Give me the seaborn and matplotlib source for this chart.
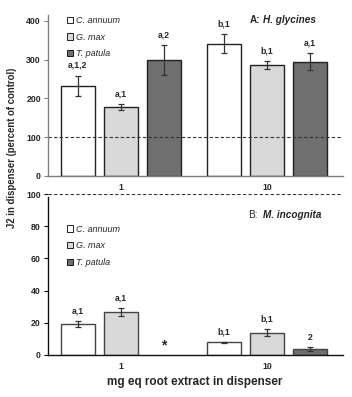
import numpy as np
import pandas as pd
import seaborn as sns
import matplotlib.pyplot as plt
from matplotlib.patches import Patch

# data
doses = ["1", "10"]
species = ["C. annuum", "G. max", "T. patula"]
colors = ["#ffffff", "#d9d9d9", "#6f6f6f"]

# panel A: H. glycines
a_mean = {"C. annuum": [232, 341], "G. max": [177, 286], "T. patula": [299, 295]}
a_err = {"C. annuum": [27, 25], "G. max": [8, 10], "T. patula": [38, 22]}
a_lab = {"C. annuum": ["a,1,2", "b,1"], "G. max": ["a,1", "b,1"], "T. patula": ["a,2", "a,1"]}

# panel B: M. incognita (T. patula at 1 mg not measured -> *)
b_mean = {"C. annuum": [19, 7.9], "G. max": [26.5, 13.9], "T. patula": [np.nan, 3.7]}
b_err = {"C. annuum": [1.8, 0.4], "G. max": [2.5, 2.2], "T. patula": [np.nan, 1.1]}
b_lab = {"C. annuum": ["a,1", "b,1"], "G. max": ["a,1", "b,1"], "T. patula": ["", "2"]}

sns.set_style("white")
plt.rcParams['font.family'] = ['Liberation Sans', 'DejaVu Sans']
plt.rcParams['font.weight'] = 'bold'

fig = plt.figure(figsize=(3.52, 3.97), dpi=100)
ax1 = fig.add_axes([0.136, 0.557, 0.838, 0.405])
ax2 = fig.add_axes([0.136, 0.106, 0.838, 0.405])


def make_df(mean):
    rows = []
    for sp in species:
        for i, d in enumerate(doses):
            rows.append({"dose": d, "species": sp, "val": mean[sp][i]})
    return pd.DataFrame(rows)


def draw(ax, mean, err, labs, spine_col, edge_col):
    df = make_df(mean)
    sns.barplot(data=df, x="dose", y="val", hue="species", order=doses,
                hue_order=species, palette=colors, errorbar=None,
                width=0.885, gap=0.2, edgecolor=edge_col, linewidth=1.0,
                legend=False, ax=ax)
    conts = list(ax.containers)
    for j, cont in enumerate(conts):
        sp = species[j]
        for bar in cont:
            xc = bar.get_x() + bar.get_width() / 2
            c = int(round(xc))
            v = mean[sp][c]
            e = err[sp][c]
            if np.isnan(v):
                continue
            ax.errorbar(xc, v, yerr=e, fmt="none", ecolor="#333333",
                        elinewidth=0.9, capsize=2.5, capthick=0.9)
            ax.annotate(labs[sp][c], (xc, v + e), xytext=(0, 4),
                        textcoords="offset points", ha="center", va="bottom",
                        fontsize=6.2, fontweight="bold")
    ax.set_xlim(-0.5, 1.52)
    ax.set_xlabel("")
    ax.set_ylabel("")
    for s in ["top", "right"]:
        ax.spines[s].set_visible(False)
    for s in ["left", "bottom"]:
        ax.spines[s].set_color(spine_col)
        ax.spines[s].set_linewidth(1.0)
    ax.tick_params(axis="x", length=0, labelsize=6.3, pad=5)
    ax.tick_params(axis="y", length=3, width=0.8, color=spine_col,
                   labelsize=6.3, pad=2, left=True)
    for t in ax.get_xticklabels() + ax.get_yticklabels():
        t.set_fontweight("bold")
    handles = [Patch(facecolor=c, edgecolor="black", linewidth=0.6) for c in colors]
    leg = ax.legend(handles, species, loc="upper left", frameon=False,
                    handlelength=0.7, handleheight=0.7, handletextpad=0.3,
                    labelspacing=0.85, borderpad=0, borderaxespad=0,
                    prop={"size": 6.5, "style": "italic", "weight": "normal"})
    return leg


# panel A
draw(ax1, a_mean, a_err, a_lab, "#808080", "#222222")
ax1.set_ylim(0, 415)
ax1.set_yticks([0, 100, 200, 300, 400])
ax1.axhline(100, color="#333333", linestyle="--", linewidth=0.8, dashes=(3, 2))
ax1.get_legend().set_bbox_to_anchor((0.065, 0.995))
ax1.text(0.685, 402, "A:", transform=ax1.get_yaxis_transform(),
         fontsize=7.2, fontweight="bold", va="center")
ax1.text(0.73, 402, "H. glycines", transform=ax1.get_yaxis_transform(),
         fontsize=7.2, fontweight="bold", style="italic", va="center")

# panel B
draw(ax2, b_mean, b_err, b_lab, "#111111", "#444444")
ax2.set_ylim(0, 100)
ax2.set_yticks([0, 20, 40, 60, 80, 100])
ax2.axhline(100, color="#333333", linestyle="--", linewidth=0.8, dashes=(3, 2))
ax2.spines["left"].set_bounds(0, 98.5)
ax2.get_legend().set_bbox_to_anchor((0.065, 0.81))
ax2.text(0.68, 87, "B:", transform=ax2.get_yaxis_transform(),
         fontsize=7.2, fontweight="normal", va="center")
ax2.text(0.73, 87, "M. incognita", transform=ax2.get_yaxis_transform(),
         fontsize=7.2, fontweight="bold", style="italic", va="center")
# missing T. patula at 1 mg
ax2.text(0 + 0.885 / 3, 1.5, "*", ha="center", va="bottom",
         fontsize=10, fontweight="bold")

fig.text(0.034, 0.627, "J2 in dispenser (percent of control)", rotation=90,
         ha="center", va="center", fontsize=6.9, fontweight="bold")
fig.text(0.554, 0.038, "mg eq root extract in dispenser", ha="center",
         va="center", fontsize=8.5, fontweight="bold")

fig.savefig("out.png", dpi=100)
